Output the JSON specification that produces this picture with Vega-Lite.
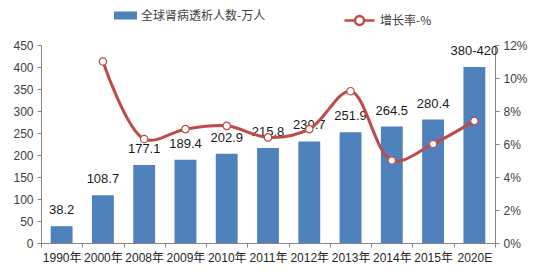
{
  "$schema": "https://vega.github.io/schema/vega-lite/v6.json",
  "width": 548,
  "height": 274,
  "autosize": {"type": "fit", "contains": "padding"},
  "padding": {"left": 12, "right": 20, "top": 39, "bottom": 11},
  "background": "white",
  "config": {
    "view": {"stroke": null},
    "font": "Liberation Sans, Noto Sans CJK SC, sans-serif",
    "axis": {"labelFont": "Liberation Sans, Noto Sans CJK SC, sans-serif", "labelFontSize": 12, "labelColor": "#404040", "domainColor": "#868686", "tickColor": "#868686", "tickSize": 4, "grid": false, "title": null}
  },
  "data": {
    "values": [
      {"year": "1990年", "people": 38.2, "label": "38.2", "rate": null},
      {"year": "2000年", "people": 108.7, "label": "108.7", "rate": 0.110},
      {"year": "2008年", "people": 177.1, "label": "177.1", "rate": 0.063},
      {"year": "2009年", "people": 189.4, "label": "189.4", "rate": 0.069},
      {"year": "2010年", "people": 202.9, "label": "202.9", "rate": 0.071},
      {"year": "2011年", "people": 215.8, "label": "215.8", "rate": 0.064},
      {"year": "2012年", "people": 230.7, "label": "230.7", "rate": 0.069},
      {"year": "2013年", "people": 251.9, "label": "251.9", "rate": 0.092},
      {"year": "2014年", "people": 264.5, "label": "264.5", "rate": 0.050},
      {"year": "2015年", "people": 280.4, "label": "280.4", "rate": 0.060},
      {"year": "2020E", "people": 400, "label": "380-420", "rate": 0.074}
    ]
  },
  "encoding": {
    "x": {"field": "year", "type": "nominal", "sort": null, "scale": {"paddingInner": 0, "paddingOuter": 0},
      "axis": {"labelAngle": 0, "tickBand": "extent", "labelPadding": 5, "labelColor": "#262626"}}
  },
  "layer": [
    {
      "encoding": {
        "y": {"field": "people", "type": "quantitative", "scale": {"domain": [0, 450], "nice": false},
          "axis": {"values": [0, 50, 100, 150, 200, 250, 300, 350, 400, 450], "labelPadding": 4}}
      },
      "layer": [
        {
          "mark": {"type": "bar", "width": {"band": 0.53}},
          "encoding": {
            "color": {"datum": "全球肾病透析人数-万人", "scale": {"range": ["#4F81BD"]},
              "legend": {"orient": "none", "legendX": 73, "legendY": -41, "title": null, "symbolType": "M-1,-0.35H1V0.35H-1Z", "symbolSize": 529, "symbolStrokeWidth": 0, "labelFontSize": 12, "labelColor": "#404040", "labelFont": "Noto Sans CJK SC"}}
          }
        },
        {
          "mark": {"type": "text", "dy": -16, "fontSize": 13, "color": "#1a1a1a"},
          "encoding": {"text": {"field": "label"}}
        }
      ]
    },
    {
      "encoding": {
        "y": {"field": "rate", "type": "quantitative", "scale": {"domain": [0, 0.12], "nice": false},
          "axis": {"orient": "right", "format": ".0%", "values": [0, 0.02, 0.04, 0.06, 0.08, 0.1, 0.12], "labelPadding": 4}}
      },
      "layer": [
        {
          "mark": {"type": "line", "interpolate": "catmull-rom", "strokeWidth": 3},
          "encoding": {
            "stroke": {"datum": "增长率-%", "scale": {"range": ["#BE4B48"]},
              "legend": {"orient": "none", "legendX": 302, "legendY": -41, "title": null, "symbolType": "M-1,0H-0.3M0.3,0H1M0.3,0A0.3,0.3 0 1,1 -0.3,0A0.3,0.3 0 1,1 0.3,0", "symbolSize": 900, "symbolStrokeWidth": 2.5, "symbolFillColor": "white", "labelFontSize": 12, "labelColor": "#404040", "labelFont": "Noto Sans CJK SC"}}
          }
        },
        {
          "mark": {"type": "point", "filled": true, "fill": "white", "stroke": "#BE4B48", "strokeWidth": 1.2, "size": 55, "opacity": 1}
        }
      ]
    }
  ],
  "resolve": {"scale": {"y": "independent", "color": "independent", "stroke": "independent"}}
}
